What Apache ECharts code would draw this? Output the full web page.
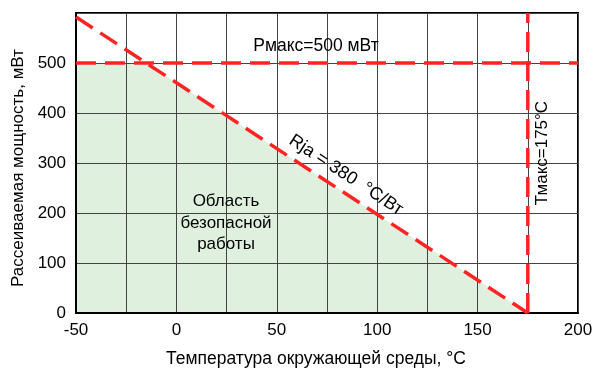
<!DOCTYPE html>
<html>
<head>
<meta charset="utf-8">
<script src="https://cdn.jsdelivr.net/npm/echarts@6/dist/echarts.min.js"></script>
<style>
    html, body {margin:0;padding:0;background:#ffffff;}
    #chart {width:600px;height:376px;}
</style>
</head>
<body>
<div id="chart"></div>
<script>
    // данные графика
    var xTicks = [-50, 0, 50, 100, 150, 200];
    var yTicks = [0, 100, 200, 300, 400, 500];
    var safeArea = [[-50, 500], [-15, 500], [175, 0]];
    var rjaLine = [[-50, 592], [175, 0]];
    var pmaxLine = [[-50, 500], [200, 500]];
    var tmaxLine = [[175, 0], [175, 600]];

    var chart = echarts.init(document.getElementById('chart'));
    var font = 'Liberation Sans, Arial, sans-serif';
    var red = '#ff2424';
    var dash = {color: red, width: 3.5, type: [20, 9]};

    var option = {
        animation: false,
        grid: {
            left: 76, right: 22, top: 13, bottom: 63,
            show: true, borderColor: '#000', borderWidth: 2
        },
        xAxis: {
            type: 'value', min: -50, max: 200, interval: 25, z: 2,
            name: 'Температура окружающей среды, °C',
            nameLocation: 'middle', nameGap: 37,
            nameTextStyle: {fontFamily: font, fontSize: 17.5, color: '#000', padding: [0, 22, 0, 0]},
            axisLine: {lineStyle: {color: '#000', width: 2}},
            axisTick: {show: false},
            axisLabel: {
                fontFamily: font, fontSize: 17, color: '#000', margin: 9,
                formatter: function (v) { return xTicks.indexOf(v) >= 0 ? String(v) : ''; }
            },
            splitLine: {lineStyle: {color: '#444', width: 1}}
        },
        yAxis: {
            type: 'value', min: 0, max: 600, interval: 100, z: 2,
            name: 'Рассеиваемая мощность, мВт',
            nameLocation: 'middle', nameGap: 48,
            nameTextStyle: {fontFamily: font, fontSize: 17, color: '#000', padding: [0, 10, 0, 0]},
            axisLine: {onZero: false, lineStyle: {color: '#000', width: 2}},
            axisTick: {show: false},
            axisLabel: {
                fontFamily: font, fontSize: 17, color: '#000', margin: 10,
                formatter: function (v) { return yTicks.indexOf(v) >= 0 ? String(v) : ''; }
            },
            splitLine: {lineStyle: {color: '#444', width: 1}}
        },
        series: [
            {
                type: 'line', data: safeArea, symbol: 'none', silent: true,
                lineStyle: {width: 0}, areaStyle: {color: '#dff0df', opacity: 1}, z: 1
            },
            {type: 'line', data: pmaxLine, symbol: 'none', lineStyle: dash, z: 3},
            {type: 'line', data: tmaxLine, symbol: 'none', lineStyle: dash, z: 3},
            {type: 'line', data: rjaLine, symbol: 'none', lineStyle: dash, z: 3}
        ],
        graphic: [
            {
                type: 'text', x: 316, y: 46, z: 10,
                style: {text: 'Рмакс=500 мВт', font: '17.5px ' + font, fill: '#000',
                    textAlign: 'center', textVerticalAlign: 'middle'}
            },
            {
                type: 'text', x: 346, y: 175, rotation: -0.58, z: 10,
                style: {text: 'Rja = 380  °C/Вт', font: '18px ' + font, fill: '#000',
                    textAlign: 'center', textVerticalAlign: 'middle'}
            },
            {
                type: 'text', x: 542, y: 153, rotation: Math.PI / 2, z: 10,
                style: {text: 'Тмакс=175°C', font: '17px ' + font, fill: '#000',
                    textAlign: 'center', textVerticalAlign: 'middle'}
            },
            {
                type: 'text', x: 226, y: 223, z: 10,
                style: {text: 'Область\nбезопасной\nработы', font: '17px ' + font, fill: '#000',
                    lineHeight: 21.5, textAlign: 'center', textVerticalAlign: 'middle'}
            }
        ]
    };

    chart.setOption(option);
</script>
</body>
</html>
